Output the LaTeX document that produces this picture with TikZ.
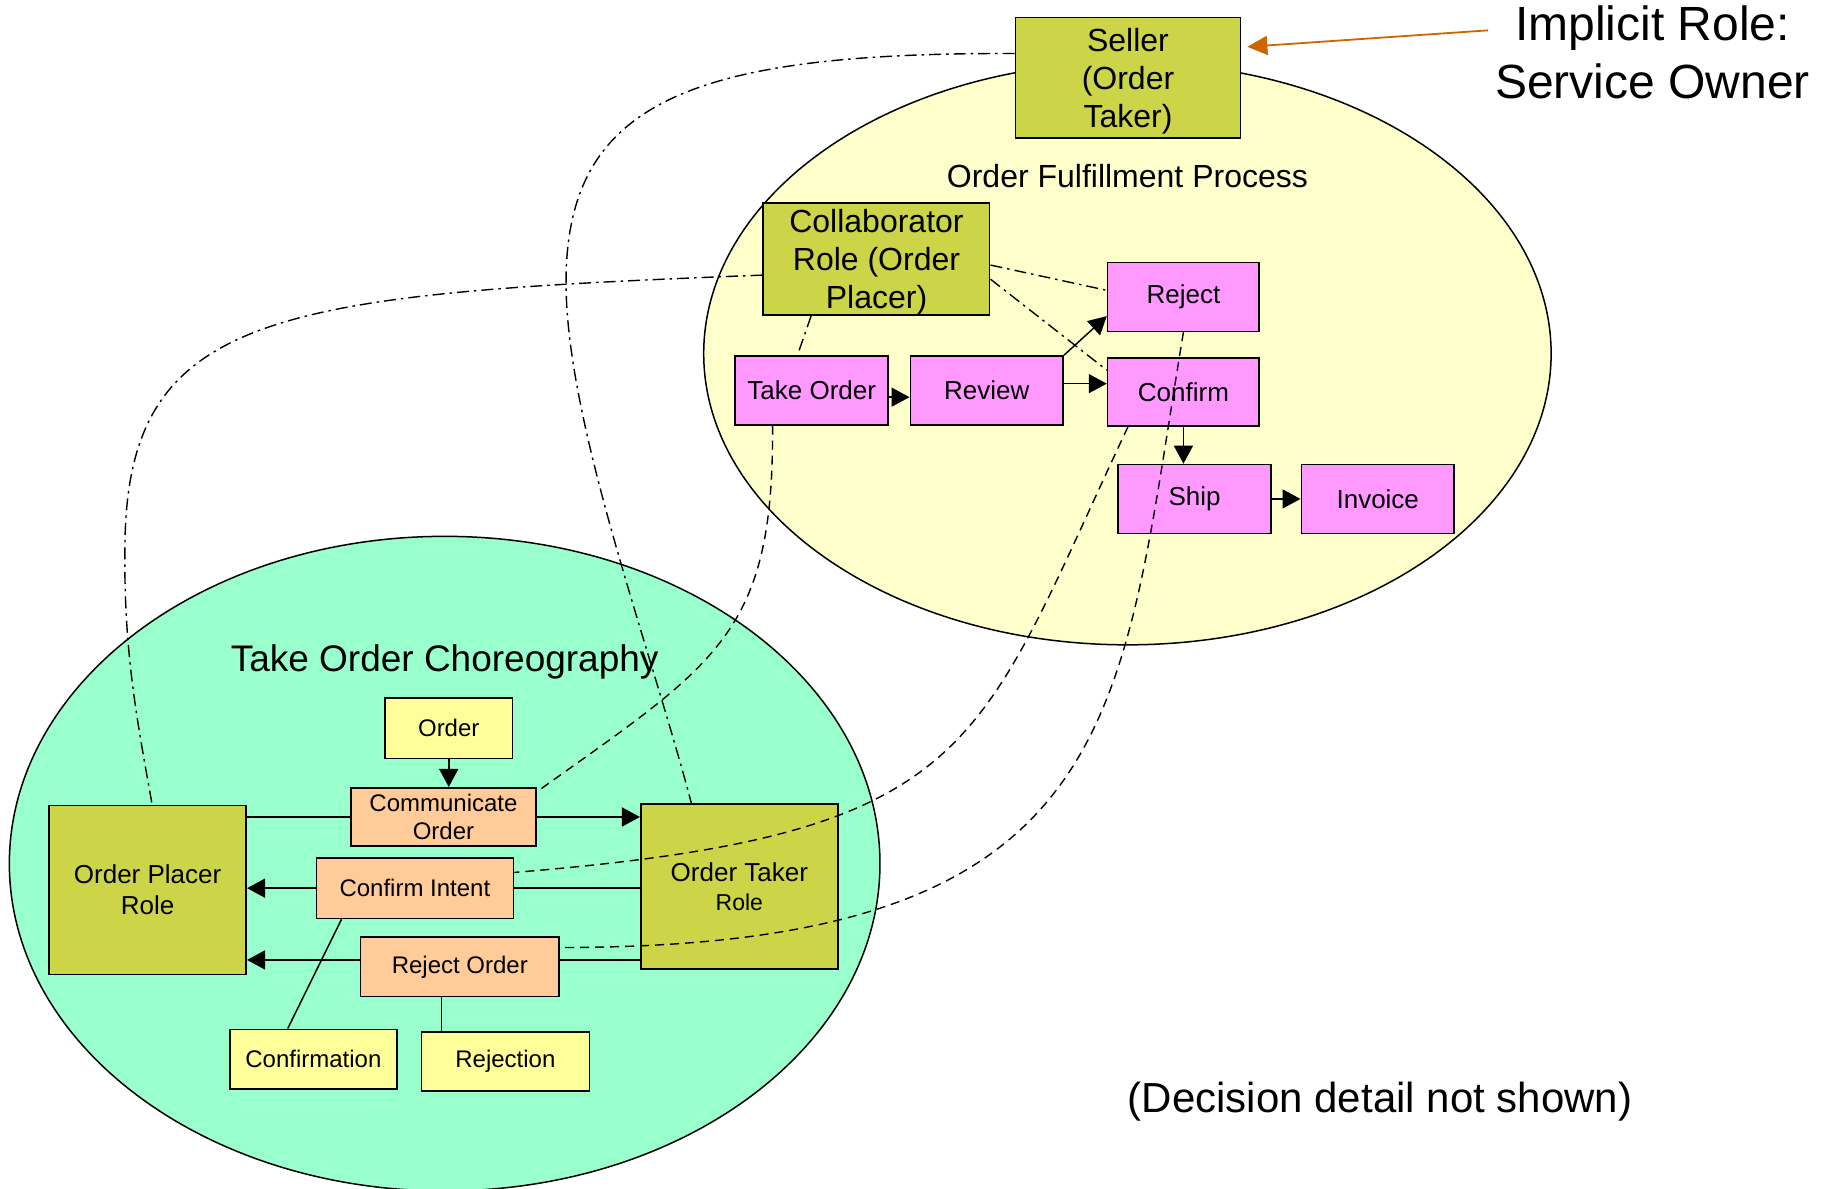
\documentclass[tikz,border=0pt]{standalone}
\usepackage{fontspec}
\setmainfont{Liberation Sans}
\usetikzlibrary{arrows.meta}
\definecolor{cOlive}{RGB}{204,212,72}
\definecolor{cPink}{RGB}{255,153,255}
\definecolor{cPeach}{RGB}{255,204,153}
\definecolor{cLemon}{RGB}{255,255,153}
\definecolor{cCream}{RGB}{255,255,204}
\definecolor{cMint}{RGB}{153,255,204}
\definecolor{cOrange}{RGB}{204,102,0}
\begin{document}
\begin{tikzpicture}[x=1.16709pt,y=-1.16709pt,
  box/.style={draw=black, line width=1.6pt, inner sep=0pt, align=center},
  rolebox/.style={box, fill=cOlive},
  actbox/.style={box, fill=cPink, minimum width=152.9pt, minimum height=68.9pt, font=\fontsize{26}{31}\selectfont},
  msgbox/.style={box, fill=cPeach, font=\fontsize{24}{28}\selectfont},
  docbox/.style={box, fill=cLemon, font=\fontsize{24}{28}\selectfont},
  ln/.style={line width=1.5pt},
  arr/.style={line width=1.5pt, -{Triangle[length=18pt,width=19pt]}},
  ddot/.style={line width=1.4pt, dash pattern=on 12pt off 5pt on 2.5pt off 5pt},
  dsh/.style={line width=1.4pt, dash pattern=on 9pt off 6pt},
  orangearr/.style={draw=cOrange, line width=1.8pt, -{Triangle[length=20pt,width=19pt]}, shorten >=6pt}
]
\useasboundingbox (0,0) rectangle (1568,1018);
% ellipses
\filldraw[fill=cCream, draw=black, line width=1.5pt] (966,303) ellipse [x radius=423.7pt, y radius=291.2pt];
\filldraw[fill=cMint, draw=black, line width=1.5pt] (381,740) ellipse [x radius=435.3pt, y radius=327.3pt];
% titles
\node[font=\fontsize{48}{58}\selectfont, align=center] (implicit) at (1416,45) {Implicit Role:\\Service Owner};
\coordinate (implicitstart) at (1275,26);
\node[font=\fontsize{32}{38}\selectfont] (ofp) at (966,151) {Order Fulfillment Process};
\node[font=\fontsize{37}{44}\selectfont] (toc) at (381,567) {Take Order Choreography};
\node[font=\fontsize{42}{50}\selectfont] (dd) at (1182.5,944) {(Decision detail not shown)};
% process boxes
\node[rolebox, text depth=0pt, minimum width=225.2pt, minimum height=120.2pt, font=\fontsize{32}{38}\selectfont] (seller) at (966.5,66.5) {Seller\\(Order\\Taker)};
\node[rolebox, text depth=0pt, minimum width=226.4pt, minimum height=112pt, font=\fontsize{32}{38}\selectfont] (collab) at (751,222) {Collaborator\\Role (Order\\Placer)};
\node[actbox, minimum width=151.7pt] (reject) at (1014,254.5) {Reject};
\node[actbox] (takeorder) at (695.5,334.5) {Take Order};
\node[actbox] (review) at (845.5,334.5) {Review};
\node[actbox, minimum width=151.7pt, minimum height=67.7pt] (confirm) at (1014,336) {Confirm};
\node[actbox] (ship) at (1023.5,427.5) {Ship};
\node[actbox] (invoice) at (1180.5,427.5) {Invoice};
% choreography boxes
\node[docbox, minimum width=127.2pt, minimum height=60.7pt] (order) at (384.5,624) {Order};
\node[msgbox, minimum width=184.4pt, minimum height=58.4pt] (comm) at (380,700) {Communicate\\Order};
\node[rolebox, minimum width=197.2pt, minimum height=169.2pt, font=\fontsize{26}{31}\selectfont] (placer) at (126.5,762.5) {Order Placer\\Role};
\node[rolebox, minimum width=197.2pt, minimum height=164.6pt, font=\fontsize{26}{29}\selectfont] (taker) at (633.5,759.5) {Order Taker\\{\fontsize{23}{28}\selectfont Role}};
\node[msgbox, minimum width=197.2pt, minimum height=60.7pt] (confint) at (355.5,761) {Confirm Intent};
\node[msgbox, minimum width=198.4pt, minimum height=59.5pt] (rejord) at (394,828.5) {Reject Order};
\node[docbox, minimum width=166.9pt, minimum height=59.5pt] (confirmation) at (268.5,907.5) {Confirmation};
\node[docbox, minimum width=168.1pt, minimum height=59.5pt] (rejection) at (433,909.5) {Rejection};
% solid connectors
\draw[arr] (takeorder.-5) -- (review.185);
\draw[arr] (review.5) -- (review.5 -| confirm.west);
\draw[arr] (review.north east) -- (reject.194);
\draw[arr] (confirm.south) -- (confirm.south |- ship.north);
\draw[arr] (ship.east) -- (invoice.west);
\draw[arr] (order.south) -- (order.south |- comm.north);
\draw[ln] (comm.west -| placer.east) -- (comm.west);
\draw[arr] (comm.east) -- (comm.east -| taker.west);
\draw[ln] (confint.east) -- (confint.east -| taker.west);
\draw[arr] (confint.west) -- (confint.west -| placer.east);
\draw[ln] (rejord.4) -- (rejord.4 -| taker.west);
\draw[arr] (rejord.176) -- (rejord.176 -| placer.east);
\draw[ln] (confint.203) -- (confirmation.130);
\draw[ln] (rejord.239) -- (rejord.239 |- rejection.north);
% dashed connectors
\draw[ddot] (seller.168) .. controls (590,45) and (485,88) .. (485,242) .. controls (485,362) and (557,553.5) .. (taker.120);
\draw[ddot] (collab.188) .. controls (230,252) and (108,268) .. (107,470) .. controls (106,560) and (118,620) .. (placer.87);
\draw[ddot] (collab.-3) -- (reject.175);
\draw[ddot] (collab.-10) -- (confirm.164);
\draw[ddot] (collab.221) -- (takeorder.112);
\draw[dsh] (takeorder.222) .. controls (663,544) and (614.5,568) .. (comm.15);
\draw[dsh] (confirm.212) .. controls (834.7,645) and (840,714.8) .. (confint.9);
\draw[dsh] (reject.south) .. controls (959,614) and (967,812) .. (rejord.11);
% implicit role arrow
\draw[orangearr] (implicitstart) -- (seller.15);
\end{tikzpicture}
\end{document}
